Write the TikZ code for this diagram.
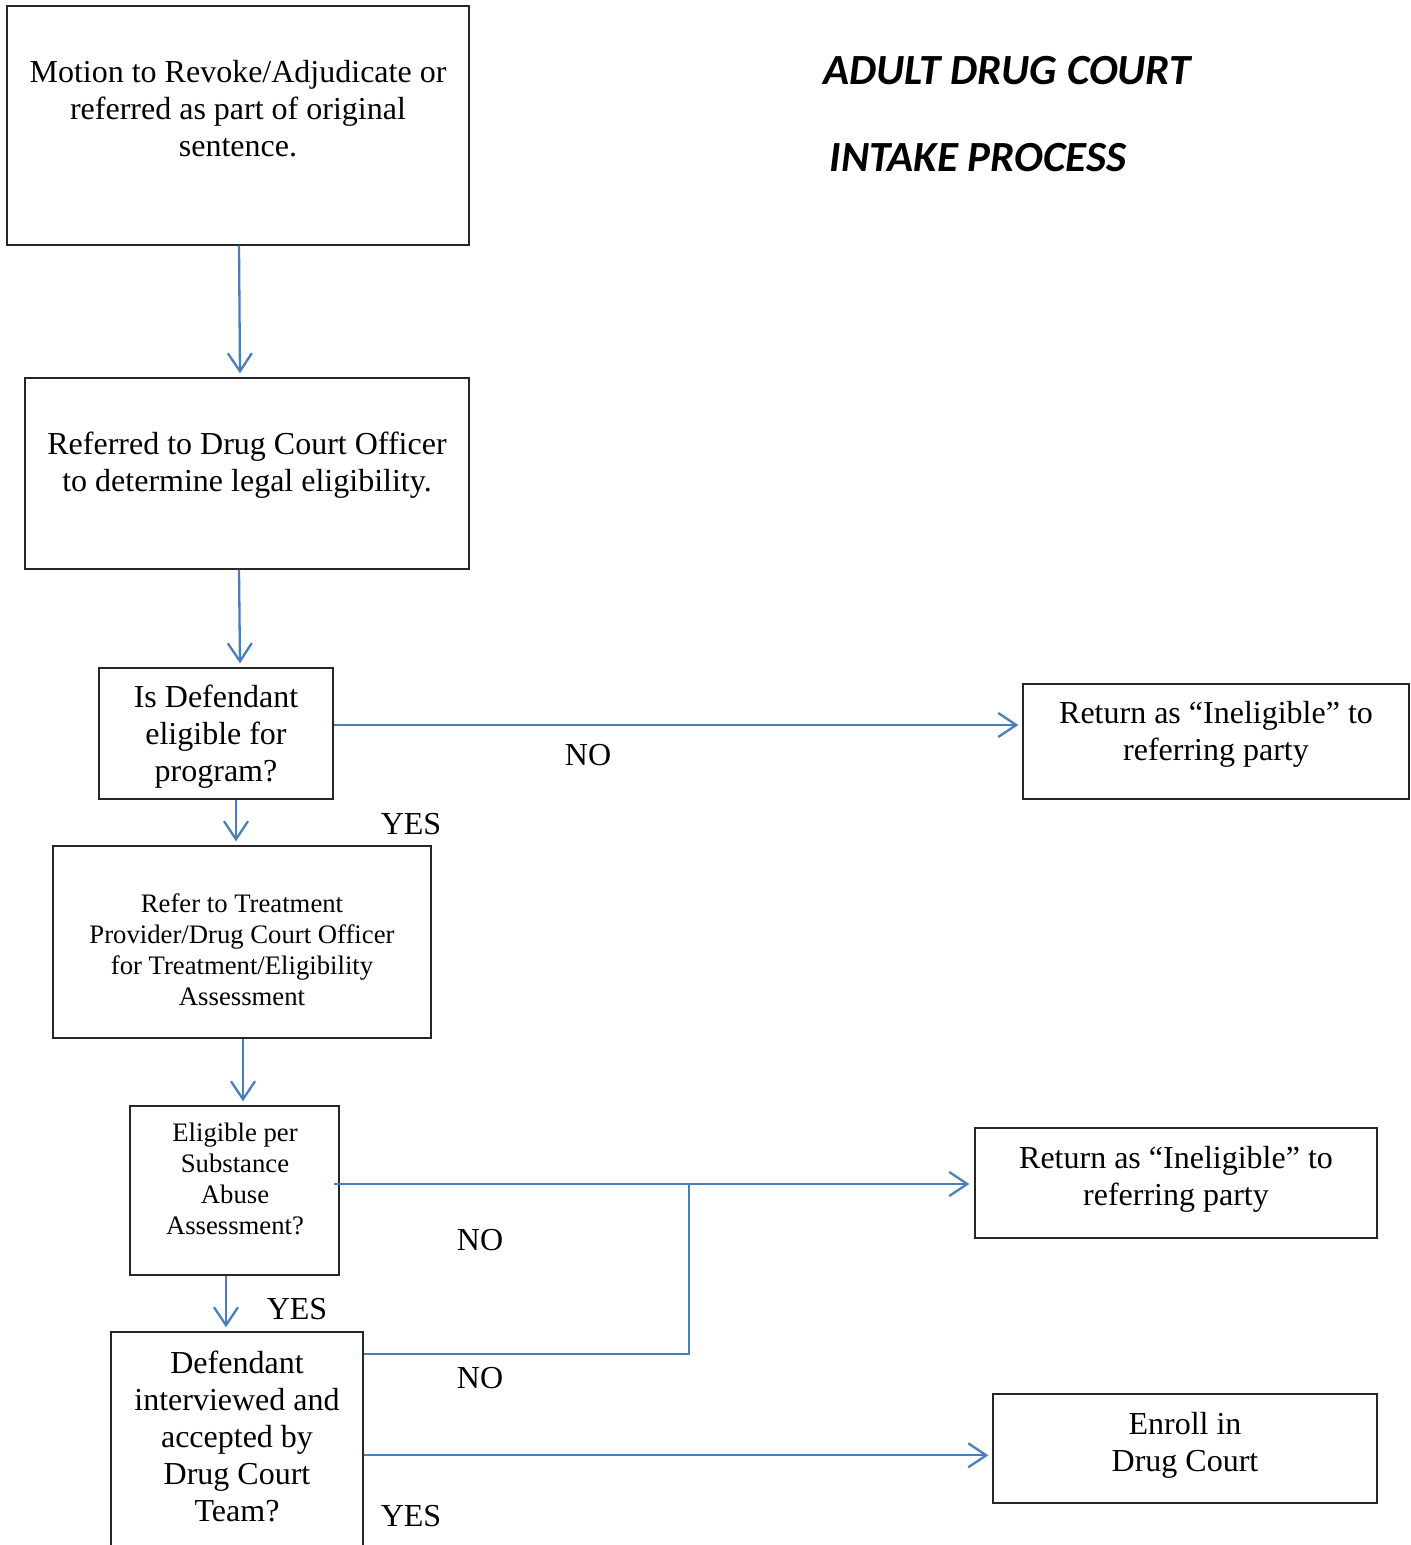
\documentclass[tikz,border=0pt]{standalone}
\usepackage{fontspec}
\setmainfont{Liberation Serif}
\newfontfamily\titlefont{Carlito}
\usetikzlibrary{arrows.meta}
\definecolor{arrowblue}{HTML}{4A7EBB}
\begin{document}
\begin{tikzpicture}[x=1pt,y=-1pt,
 box/.style={draw=black!85, line width=1.4pt, rectangle, inner sep=0},
 txt/.style={align=center, inner sep=0, font=\fontsize{32}{37}\selectfont},
 stxt/.style={align=center, inner sep=0, font=\fontsize{26.7}{31}\selectfont},
 lbl/.style={inner sep=0, font=\fontsize{32}{37}\selectfont},
 conn/.style={draw=arrowblue, line width=2.3pt},
 arr/.style={conn, -{Straight Barb[length=18pt,width=24pt,line width=2.3pt]}},
 title/.style={inner sep=0, font=\titlefont\bfseries\itshape\fontsize{43}{50}\selectfont}]
\useasboundingbox (0,0) rectangle (1411,1545);
\clip (0,0) rectangle (1411,1545);

% boxes
\node[box, minimum width=462pt, minimum height=239pt] (b1) at (238,125.5) {};
\node[box, minimum width=444pt, minimum height=191pt] (b2) at (247,473.5) {};
\node[box, minimum width=234pt, minimum height=131pt] (b3) at (216,733.5) {};
\node[box, minimum width=386pt, minimum height=115pt] (b4) at (1216,741.5) {};
\node[box, minimum width=378pt, minimum height=192pt] (b5) at (242,942) {};
\node[box, minimum width=209pt, minimum height=169pt] (b6) at (234.5,1190.5) {};
\node[box, minimum width=402pt, minimum height=110pt] (b7) at (1176,1183) {};
\node[box, minimum width=252pt, minimum height=268pt] (b8) at (237,1466) {};
\node[box, minimum width=384pt, minimum height=109pt] (b9) at (1185,1448.5) {};

% texts
\node[txt] (t1) at (238,109) {Motion to Revoke/Adjudicate or\\referred as part of original\\sentence.};
\node[txt] (t2) at (247,465.5) {Referred to Drug Court Officer\\to determine legal eligibility.};
\node[txt] (t3) at (216,737) {Is Defendant\\eligible for\\program?};
\node[txt] (t4) at (1216,734.5) {Return as “Ineligible” to\\referring party};
\node[stxt] (t5) at (242,949.5) {Refer to Treatment\\Provider/Drug Court Officer\\for Treatment/Eligibility\\Assessment};
\node[stxt] (t6) at (235,1179) {Eligible per\\Substance\\Abuse\\Assessment?};
\node[txt] (t7) at (1176,1179.5) {Return as “Ineligible” to\\referring party};
\node[txt] (t8) at (237,1436) {Defendant\\interviewed and\\accepted by\\Drug Court\\Team?};
\node[txt] (t9) at (1185,1445.5) {Enroll in\\Drug Court};

% title
\node[title] (h1) at (1007,71) {ADULT DRUG COURT};
\node[title] (h2) at (978,158) {INTAKE PROCESS};

% labels
\node[lbl] (l1) at (588,755) {NO};
\node[lbl] (l2) at (411,824) {YES};
\node[lbl] (l3) at (480,1240) {NO};
\node[lbl] (l4) at (297,1309) {YES};
\node[lbl] (l5) at (480,1378) {NO};
\node[lbl] (l6) at (411,1516) {YES};

% connectors
\coordinate (j) at (689,1184);
\draw[arr] ([xshift=1pt]b1.south) -- ([xshift=2pt,yshift=4pt]b1.south |- b2.north);
\draw[arr] ([xshift=-8pt]b2.south) -- ([xshift=-7pt,yshift=4pt]b2.south |- b3.north);
\draw[arr] ([yshift=8.5pt]b3.east) -- ([xshift=-4pt,yshift=8.5pt]b3.east -| b4.west);
\draw[arr] ([xshift=20pt]b3.south) -- ([xshift=20pt,yshift=4pt]b3.south |- b5.north);
\draw[arr] ([xshift=1pt]b5.south) -- ([xshift=1pt,yshift=4pt]b5.south |- b6.north);
\draw[arr] ([xshift=-6pt,yshift=6.5pt]b6.east) -- ([xshift=-5pt,yshift=6.5pt]b6.east -| b7.west);
\draw[arr] ([xshift=-8.5pt]b6.south) -- ([xshift=-8.5pt,yshift=4pt]b6.south |- b8.north);
\draw[conn] ([yshift=-23pt]b8.north east) -| (j);
\draw[arr] ([yshift=-124pt]b8.north east) -- ([xshift=-4pt,yshift=-124pt]b8.north east -| b9.west);
\end{tikzpicture}
\end{document}
